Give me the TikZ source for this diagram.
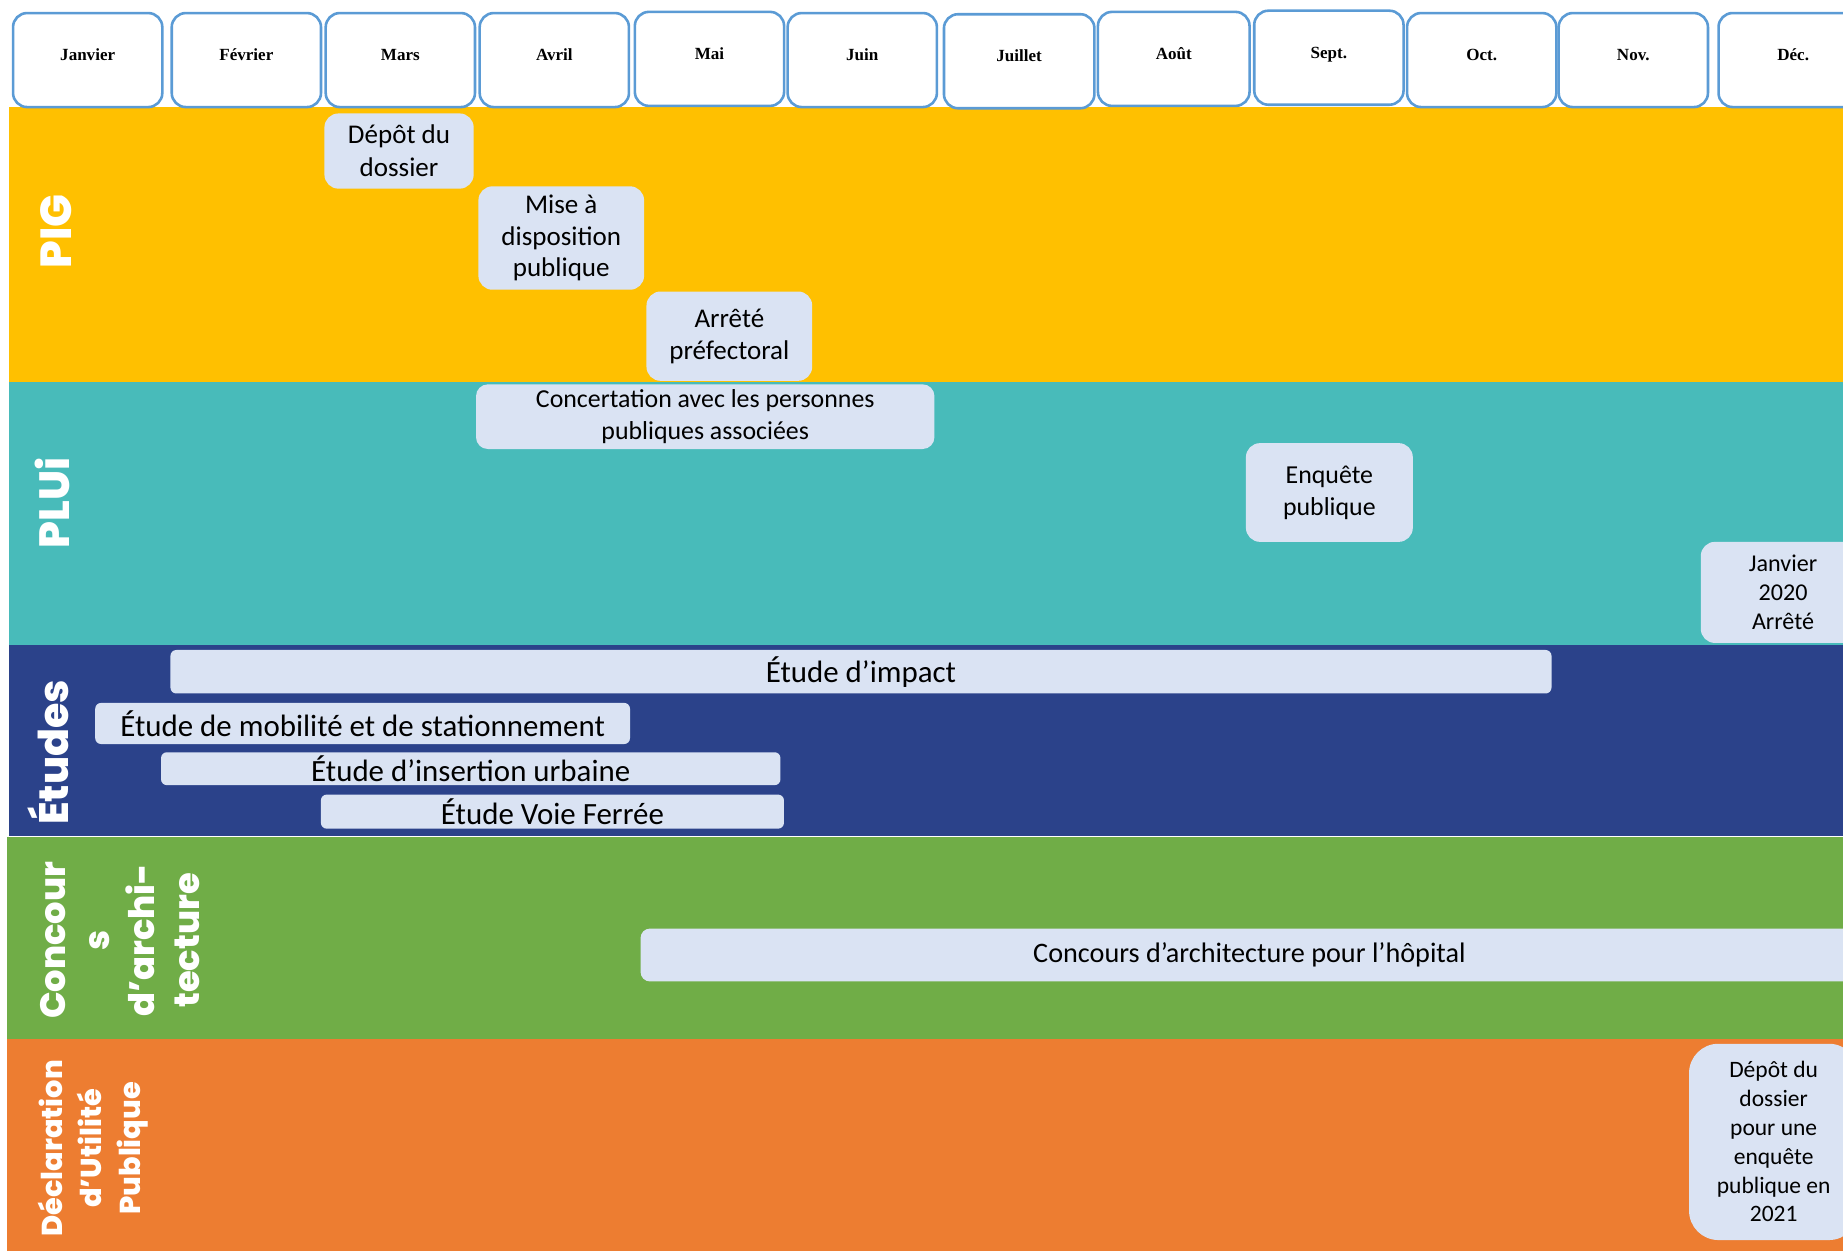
\documentclass[tikz,border=0pt]{standalone}
\usepackage{fontspec}
\setmainfont{Carlito}
\newfontfamily\monthfont{Liberation Serif}
\IfFontExistsTF{Poppins ExtraBold}
  {\newfontfamily\labelfont{Poppins}[BoldFont={Poppins ExtraBold}]}
  {\newfontfamily\labelfont{Poppins}}
\definecolor{pigc}{HTML}{FFC000}
\definecolor{pluic}{HTML}{48BBBA}
\definecolor{etuc}{HTML}{2B428A}
\definecolor{concc}{HTML}{70AD47}
\definecolor{dupc}{HTML}{ED7D31}
\definecolor{lightbox}{HTML}{DAE3F3}
\definecolor{hdrblue}{HTML}{5B9BD5}
\tikzset{
  hdr/.style={draw=hdrblue, line width=2.2pt, rounded corners=12pt, fill=white,
    minimum width=127pt, minimum height=80pt, inner sep=0pt, anchor=north west,
    text height=10pt, text depth=9pt,
    font=\monthfont\bfseries\fontsize{14.5}{16}\selectfont},
  evt/.style={fill=lightbox, rounded corners=12pt, align=center, inner sep=0pt},
  bar/.style={fill=lightbox, rounded corners=5pt, align=center, inner sep=0pt,
    font=\fontsize{26.3}{30}\selectfont},
  lbl/.style={text=white, rotate=90, align=center, inner sep=0pt},
}
\begin{document}
\begin{tikzpicture}[x=1pt,y=-1pt]
\useasboundingbox (0,0) rectangle (1568,1063.5);
\clip (0,0) rectangle (1568,1063.5);
% bands
\fill[pigc] (8,91) rectangle (1570,325);
\fill[pluic] (8,325) rectangle (1570,548.5);
\fill[etuc] (8,548.5) rectangle (1570,711);
\fill[concc] (6,712) rectangle (1570,884);
\fill[dupc] (6,884) rectangle (1570,1066);
% band labels
\node[lbl, font=\labelfont\bfseries\fontsize{37}{40}\selectfont] (pigl) at (48,197) {PIG};
\node[lbl, font=\labelfont\bfseries\fontsize{36}{40}\selectfont] (pluil) at (45,428) {PLUi};
\node[lbl, font=\labelfont\bfseries\fontsize{35}{40}\selectfont] (etul) at (41,640) {Études};
\node[lbl, font=\labelfont\bfseries\fontsize{30}{38}\selectfont] (concl) at (102,800) {Concour\\s\\d’archi-\\tecture};
\node[lbl, font=\labelfont\bfseries\fontsize{24.5}{33}\selectfont] (dupl) at (79,977) {Déclaration\\d’Utilité\\Publique};
% PIG events
\node[evt, minimum width=127pt, minimum height=64pt, font=\fontsize{23}{28}\selectfont] (depot) at (339.5,128.5) {Dépôt du\\dossier};
\node[evt, minimum width=141pt, minimum height=88pt, font=\fontsize{23}{27}\selectfont] (mise) at (477.5,202.5) {Mise à\\disposition\\publique};
\node[evt, minimum width=141pt, minimum height=76pt, font=\fontsize{23}{27}\selectfont] (arrete) at (620.5,286) {Arrêté\\préfectoral};
% PLUi events
\node[evt, rounded corners=10pt, minimum width=390pt, minimum height=55pt, font=\fontsize{22}{27}\selectfont] (concert) at (600,354.5) {Concertation avec les personnes\\publiques associées};
\node[evt, minimum width=142pt, minimum height=84pt, font=\fontsize{22}{27}\selectfont] (enquete) at (1131,419) {Enquête\\publique};
\node[evt, minimum width=140pt, minimum height=86pt, font=\fontsize{20.5}{24.5}\selectfont] (jan2020) at (1517,504) {Janvier\\2020\\Arrêté};
% Etudes bars
\node[bar, minimum width=1175pt, minimum height=37pt] (impact) at (732.5,571.5) {Étude d’impact};
\node[bar, minimum width=455pt, minimum height=35pt] (mobil) at (308.5,615.5) {Étude de mobilité et de stationnement};
\node[bar, minimum width=527pt, minimum height=28pt] (insert) at (400.5,654) {Étude d’insertion urbaine};
\node[bar, minimum width=394pt, minimum height=29pt] (voie) at (470,690.5) {Étude Voie Ferrée};
% Concours
\node[evt, rounded corners=8pt, minimum width=1036pt, minimum height=45pt, font=\fontsize{24}{28}\selectfont] (concbox) at (1063,812.5) {Concours d’architecture pour l’hôpital};
% DUP
\node[evt, rounded corners=25pt, minimum width=144pt, minimum height=167pt, font=\fontsize{20}{24.5}\selectfont] (dupbox) at (1509,971.5) {Dépôt du\\dossier\\pour une\\enquête\\publique en\\2021};
% month headers
\node[hdr] (m1) at (10,10) {Janvier};
\node[hdr] (m2) at (145,10) {Février};
\node[hdr] (m3) at (276,10) {Mars};
\node[hdr] (m4) at (407,10) {Avril};
\node[hdr] (m5) at (539,9) {Mai};
\node[hdr] (m6) at (669,10) {Juin};
\node[hdr, minimum width=128pt] (m7) at (802,11) {Juillet};
\node[hdr, minimum width=129pt] (m8) at (933,9) {Août};
\node[hdr] (m9) at (1066,8) {Sept.};
\node[hdr] (m10) at (1196,10) {Oct.};
\node[hdr] (m11) at (1325,10) {Nov.};
\node[hdr, minimum width=127pt] (m12) at (1461,10) {Déc.};
\end{tikzpicture}
\end{document}
